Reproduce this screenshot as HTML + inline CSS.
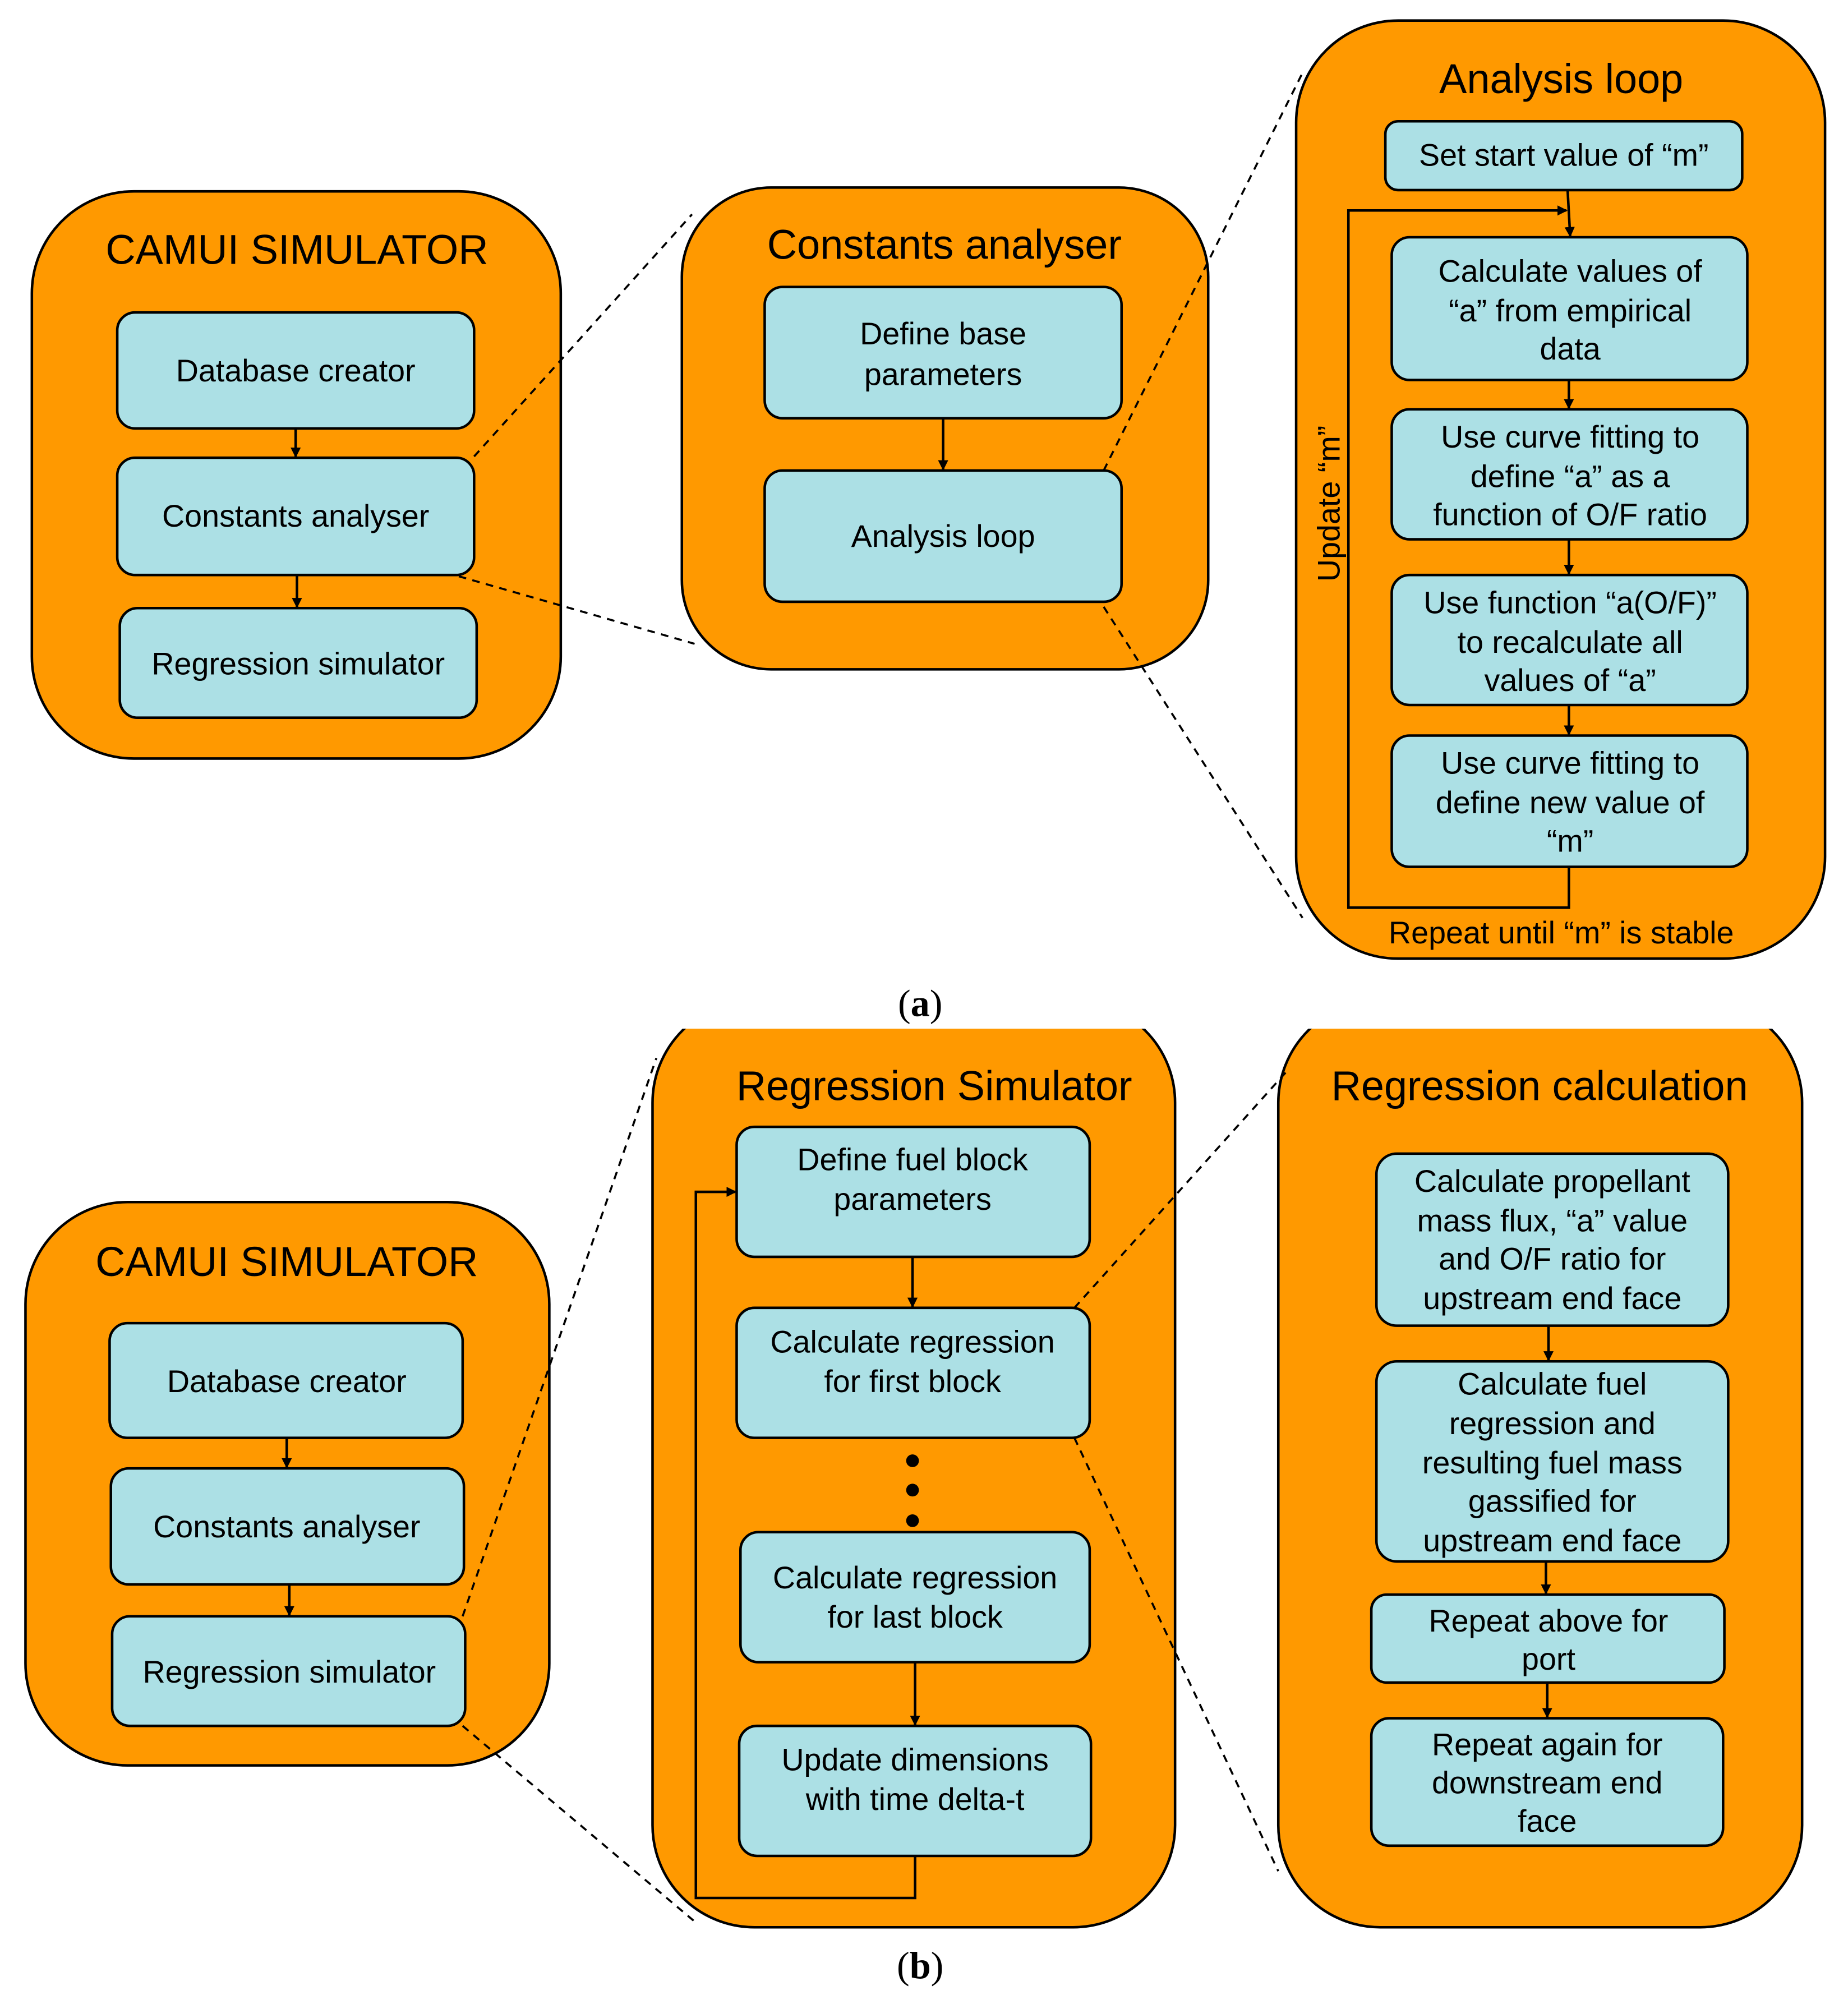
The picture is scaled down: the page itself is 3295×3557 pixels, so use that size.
<!DOCTYPE html>
<html><head><meta charset="utf-8"><style>
html,body{margin:0;padding:0;background:#fff;}
svg{display:block;}
text{font-family:"Liberation Sans",Arial,sans-serif;fill:#000;}
.t{font-size:32.5px;text-anchor:middle;}
.b{font-size:24.5px;text-anchor:middle;}
.o{fill:#FF9900;stroke:#000;stroke-width:2;}
.c{fill:#ACE0E5;stroke:#000;stroke-width:2;}
.l{stroke:#000;stroke-width:2;fill:none;}
.d{stroke:#000;stroke-width:1.6;fill:none;stroke-dasharray:6,5;}
</style></head><body>
<svg width="3295" height="3557" viewBox="0 0 1450 1565" xmlns="http://www.w3.org/2000/svg">
<defs><marker id="a" markerWidth="8" markerHeight="8" refX="7" refY="4" orient="auto" markerUnits="userSpaceOnUse"><path d="M0,0 L8,4 L0,8 z" fill="#000"/></marker>
<clipPath id="cb"><rect x="0" y="807" width="1450" height="760"/></clipPath></defs>

<rect class="o" x="25" y="150" width="415" height="445" rx="80"/>
<text class="t" x="233" y="207">CAMUI SIMULATOR</text>
<rect class="c" x="92" y="245" width="280" height="91" rx="14"/>
<text class="b" x="232" y="299">Database creator</text>
<rect class="c" x="92" y="359" width="280" height="92" rx="14"/>
<text class="b" x="232" y="413">Constants analyser</text>
<rect class="c" x="94" y="477" width="280" height="86" rx="14"/>
<text class="b" x="234" y="529">Regression simulator</text>
<line class="l" x1="232" y1="336" x2="232" y2="358" marker-end="url(#a)"/>
<line class="l" x1="233" y1="451" x2="233" y2="476" marker-end="url(#a)"/>

<rect class="o" x="535" y="147" width="413" height="378" rx="70"/>
<text class="t" x="741" y="203">Constants analyser</text>
<rect class="c" x="600" y="225" width="280" height="103" rx="14"/>
<text class="b" x="740" y="270">Define base</text><text class="b" x="740" y="302">parameters</text>
<rect class="c" x="600" y="369" width="280" height="103" rx="14"/>
<text class="b" x="740" y="429">Analysis loop</text>
<line class="l" x1="740" y1="328" x2="740" y2="368" marker-end="url(#a)"/>
<line class="d" x1="372" y1="358" x2="543" y2="168"/>
<line class="d" x1="360" y1="452" x2="545" y2="505"/>

<rect class="o" x="1017" y="16" width="415" height="736" rx="80"/>
<text class="t" x="1225" y="73">Analysis loop</text>
<rect class="c" x="1087" y="95" width="280" height="54" rx="10"/>
<text class="b" x="1227" y="130">Set start value of “m”</text>
<rect class="c" x="1092" y="186" width="279" height="112" rx="14"/>
<text class="b" x="1232" y="221">Calculate values of</text><text class="b" x="1232" y="252">“a” from empirical</text><text class="b" x="1232" y="282">data</text>
<rect class="c" x="1092" y="321" width="279" height="102" rx="14"/>
<text class="b" x="1232" y="351">Use curve fitting to</text><text class="b" x="1232" y="382">define “a” as a</text><text class="b" x="1232" y="412">function of O/F ratio</text>
<rect class="c" x="1092" y="451" width="279" height="102" rx="14"/>
<text class="b" x="1232" y="481">Use function “a(O/F)”</text><text class="b" x="1232" y="512">to recalculate all</text><text class="b" x="1232" y="542">values of “a”</text>
<rect class="c" x="1092" y="577" width="279" height="103" rx="14"/>
<text class="b" x="1232" y="607">Use curve fitting to</text><text class="b" x="1232" y="638">define new value of</text><text class="b" x="1232" y="668">“m”</text>
<line class="l" x1="1230" y1="149" x2="1232" y2="185" marker-end="url(#a)"/>
<line class="l" x1="1231" y1="298" x2="1231" y2="320" marker-end="url(#a)"/>
<line class="l" x1="1231" y1="423" x2="1231" y2="450" marker-end="url(#a)"/>
<line class="l" x1="1231" y1="553" x2="1231" y2="576" marker-end="url(#a)"/>
<polyline class="l" points="1231,680 1231,712 1058,712 1058,165 1229,165" marker-end="url(#a)"/>
<text class="b" transform="translate(1051,395) rotate(-90)">Update “m”</text>
<text class="b" x="1225" y="740">Repeat until “m” is stable</text>
<line class="d" x1="866" y1="369" x2="1022" y2="57"/>
<line class="d" x1="866" y1="476" x2="1022" y2="720"/>

<text x="722" y="797" style="font-family:'Liberation Serif',serif;font-size:30px;text-anchor:middle">(<tspan font-weight="bold">a</tspan>)</text>

<rect class="o" x="20" y="943" width="411" height="442" rx="80"/>
<text class="t" x="225" y="1001">CAMUI SIMULATOR</text>
<rect class="c" x="86" y="1038" width="277" height="90" rx="14"/>
<text class="b" x="225" y="1092">Database creator</text>
<rect class="c" x="87" y="1152" width="277" height="91" rx="14"/>
<text class="b" x="225" y="1206">Constants analyser</text>
<rect class="c" x="88" y="1268" width="277" height="86" rx="14"/>
<text class="b" x="227" y="1320">Regression simulator</text>
<line class="l" x1="225" y1="1128" x2="225" y2="1151" marker-end="url(#a)"/>
<line class="l" x1="227" y1="1243" x2="227" y2="1267" marker-end="url(#a)"/>

<g clip-path="url(#cb)">
<rect class="o" x="512" y="785" width="410" height="727" rx="80"/>
<rect class="o" x="1003" y="785" width="411" height="727" rx="80"/>
</g>
<text class="t" x="733" y="863">Regression Simulator</text>
<rect class="c" x="578" y="884" width="277" height="102" rx="14"/>
<text class="b" x="716" y="918">Define fuel block</text><text class="b" x="716" y="949">parameters</text>
<rect class="c" x="578" y="1026" width="277" height="102" rx="14"/>
<text class="b" x="716" y="1061">Calculate regression</text><text class="b" x="716" y="1092">for first block</text>
<circle cx="716" cy="1146" r="5"/><circle cx="716" cy="1169" r="5"/><circle cx="716" cy="1193" r="5"/>
<rect class="c" x="581" y="1202" width="274" height="102" rx="14"/>
<text class="b" x="718" y="1246">Calculate regression</text><text class="b" x="718" y="1277">for last block</text>
<rect class="c" x="580" y="1354" width="276" height="102" rx="14"/>
<text class="b" x="718" y="1389">Update dimensions</text><text class="b" x="718" y="1420">with time delta-t</text>
<line class="l" x1="716" y1="986" x2="716" y2="1025" marker-end="url(#a)"/>
<line class="l" x1="718" y1="1304" x2="718" y2="1353" marker-end="url(#a)"/>
<polyline class="l" points="718,1456 718,1489 546,1489 546,935 577,935" marker-end="url(#a)"/>

<text class="t" x="1208" y="863">Regression calculation</text>
<rect class="c" x="1080" y="905" width="276" height="135" rx="16"/>
<text class="b" x="1218" y="935">Calculate propellant</text><text class="b" x="1218" y="966">mass flux, “a” value</text><text class="b" x="1218" y="996">and O/F ratio for</text><text class="b" x="1218" y="1027">upstream end face</text>
<rect class="c" x="1080" y="1068" width="276" height="157" rx="16"/>
<text class="b" x="1218" y="1094">Calculate fuel</text><text class="b" x="1218" y="1125">regression and</text><text class="b" x="1218" y="1156">resulting fuel mass</text><text class="b" x="1218" y="1186">gassified for</text><text class="b" x="1218" y="1217">upstream end face</text>
<rect class="c" x="1076" y="1251" width="277" height="69" rx="12"/>
<text class="b" x="1215" y="1280">Repeat above for</text><text class="b" x="1215" y="1310">port</text>
<rect class="c" x="1076" y="1348" width="276" height="100" rx="14"/>
<text class="b" x="1214" y="1377">Repeat again for</text><text class="b" x="1214" y="1407">downstream end</text><text class="b" x="1214" y="1437">face</text>
<line class="l" x1="1215" y1="1040" x2="1215" y2="1067" marker-end="url(#a)"/>
<line class="l" x1="1213" y1="1225" x2="1213" y2="1250" marker-end="url(#a)"/>
<line class="l" x1="1214" y1="1320" x2="1214" y2="1347" marker-end="url(#a)"/>

<line class="d" x1="363" y1="1268" x2="515" y2="830"/>
<line class="d" x1="363" y1="1354" x2="548" y2="1510"/>
<line class="d" x1="843" y1="1026" x2="1010" y2="840"/>
<line class="d" x1="843" y1="1128" x2="1003" y2="1468"/>

<text x="722" y="1552" style="font-family:'Liberation Serif',serif;font-size:30px;text-anchor:middle">(<tspan font-weight="bold">b</tspan>)</text>
</svg>
</body></html>
